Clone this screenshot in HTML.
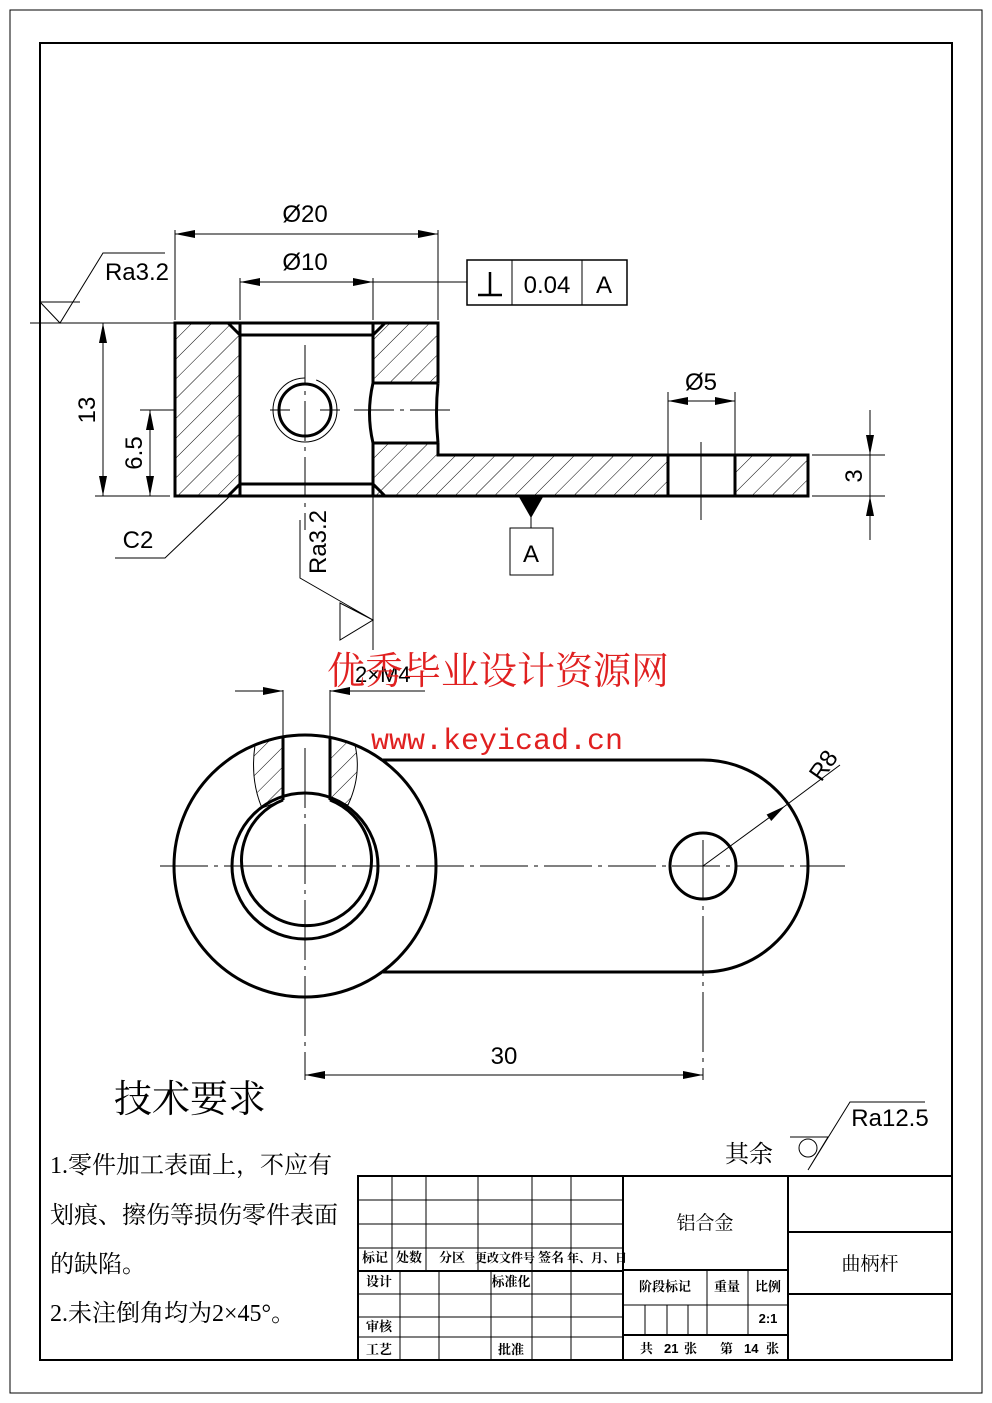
<!DOCTYPE html>
<html><head><meta charset="utf-8"><style>
html,body{margin:0;padding:0;background:#fff}
svg{display:block}
text{font-family:"Liberation Sans Narrow","Liberation Sans","Noto Sans CJK SC",sans-serif;fill:#000}
.cj{font-family:"Liberation Serif","Noto Serif CJK SC","Noto Sans CJK SC",serif}
</style></head><body>
<svg width="992" height="1403" viewBox="0 0 992 1403" xmlns="http://www.w3.org/2000/svg">
<defs>
<pattern id="h" patternUnits="userSpaceOnUse" width="14" height="14" patternTransform="rotate(45)">
<line x1="0" y1="0" x2="0" y2="14" stroke="#000" stroke-width="1"/></pattern>
<marker id="a" viewBox="0 0 20 8" refX="20" refY="4" markerWidth="20" markerHeight="8" markerUnits="userSpaceOnUse" orient="auto-start-reverse"><path d="M0,0L20,4L0,8z" fill="#000"/></marker>
</defs>
<rect x="10" y="10" width="972" height="1383" fill="none" stroke="#000" stroke-width="1"/>
<rect x="40" y="43" width="912" height="1317" fill="none" stroke="#000" stroke-width="2"/>

<!-- TOP VIEW -->
<g fill="url(#h)" stroke="none">
<path d="M175,323H240V496H175z"/>
<path d="M373,323H438V383H373z"/>
<path d="M373,443H438V455H668V496H373z"/>
<path d="M735,455H808V496H735z"/>
</g>
<g fill="none" stroke="#000" stroke-width="3">
<path d="M438,383V323H175V496H808V455H438V443"/>
<path d="M240,323V496M373,323V383M373,443V496"/>
<path d="M240,335H373M240,484H373M228,323L240,335M385,323L373,335M228,496L240,484M385,496L373,484"/>
<path d="M373,383H438M373,443H438M373,383Q366,413 373,443M438,383Q435,413 438,443"/>
<path d="M668,455V496M735,455V496"/>
<circle cx="305" cy="410" r="26"/>
</g>
<circle cx="305" cy="410" r="32" fill="none" stroke="#000" stroke-width="1" stroke-dasharray="150 12"/>
<g stroke="#000" stroke-width="1" fill="none">
<path d="M305,345V530M270,410H290M320,410H340M354,410H455M150,410H175" stroke-dasharray="40 6 4 6"/>
<path d="M701,442V520"/>
<path d="M175,230V320M438,230V320M240,278V320M373,278V320M668,392V455M735,392V455"/>
<path d="M175,234H438" marker-start="url(#a)" marker-end="url(#a)"/>
<path d="M240,282H373" marker-start="url(#a)" marker-end="url(#a)"/>
<path d="M373,282H467"/>
<path d="M668,401H735" marker-start="url(#a)" marker-end="url(#a)"/>
<path d="M30,323H175M95,496H170"/>
<path d="M103,323V496" marker-start="url(#a)" marker-end="url(#a)"/>
<path d="M140,410H175"/>
<path d="M150,410V496" marker-start="url(#a)" marker-end="url(#a)"/>
<path d="M812,455H885M812,496H885"/>
<path d="M870,410V455" marker-end="url(#a)"/>
<path d="M870,540V496" marker-end="url(#a)"/>
<path d="M870,455V496"/>
<path d="M230,496L165,558H115"/>
<path d="M40,302H80M40,302L60,323L103,253H165"/>
<path d="M300,520V578L373,620M373,620L340,603V640z"/>
<path d="M373,496V650"/>
<rect x="467" y="260" width="160" height="45" stroke-width="1.5"/>
<path d="M512,260V305M582,260V305"/>
<path d="M478,295H502M490,272V295" stroke-width="2.5"/>
<path d="M531,498V528"/>
<rect x="510" y="528" width="43" height="47"/>
</g>
<path d="M519,497H543L531,518z" fill="#000"/>
<g font-size="24">
<text x="305" y="222" text-anchor="middle">Ø20</text>
<text x="305" y="270" text-anchor="middle">Ø10</text>
<text x="547" y="293" text-anchor="middle">0.04</text>
<text x="604" y="293" text-anchor="middle">A</text>
<text x="137" y="280" text-anchor="middle">Ra3.2</text>
<text x="701" y="390" text-anchor="middle">Ø5</text>
<text x="138" y="548" text-anchor="middle">C2</text>
<text x="531" y="562" text-anchor="middle">A</text>
<text transform="translate(95,410) rotate(-90)" text-anchor="middle">13</text>
<text transform="translate(142,453) rotate(-90)" text-anchor="middle">6.5</text>
<text transform="translate(862,476) rotate(-90)" text-anchor="middle">3</text>
<text transform="translate(326,542) rotate(-90)" text-anchor="middle">Ra3.2</text>
</g>

<!-- BOTTOM VIEW -->
<g fill="none" stroke="#000" stroke-width="3">
<circle cx="305" cy="866" r="131"/>
<circle cx="305" cy="866" r="73"/>
<path d="M330,800A65,65 0 1,1 283,800"/>
<path d="M383,760H703A105,106 0 0,1 703,972H383"/>
<circle cx="703" cy="866" r="33"/>
<path d="M283,737V800M330,737V800"/>
</g>
<path d="M255,745Q250,780 262,808L283,800V737zM355,745Q362,775 348,805L330,800V737z" fill="url(#h)" stroke="#000" stroke-width="1"/>
<g stroke="#000" stroke-width="1" fill="none">
<path d="M160,866H845" stroke-dasharray="48 6 4 6"/>
<path d="M305,748V1080M703,840V1080" stroke-dasharray="60 6 4 6"/>
<path d="M283,690V737M330,690V737"/>
<path d="M235,691H283" marker-end="url(#a)"/>
<path d="M378,691H330" marker-end="url(#a)"/>
<path d="M330,691H425"/>
<path d="M703,866L785,806" marker-end="url(#a)"/>
<path d="M785,806L840,765"/>
<path d="M305,1075H703" marker-start="url(#a)" marker-end="url(#a)"/>
</g>
<text x="355" y="682" font-size="22">2×M4</text>
<text transform="translate(830,770) rotate(-55)" font-size="24" text-anchor="middle">R8</text>
<text x="504" y="1064" font-size="24" text-anchor="middle">30</text>

<text x="498" y="684" font-size="38" text-anchor="middle" class="cj" style="fill:#e02020">优秀毕业设计资源网</text>
<text x="497" y="749" font-size="30" text-anchor="middle" style="fill:#e02020;font-family:'Liberation Mono',monospace">www.keyicad.cn</text>

<text x="190" y="1112" font-size="38" text-anchor="middle" class="cj">技术要求</text>
<g font-size="24">
<text x="50" y="1173" class="cj">1.零件加工表面上，不应有</text>
<text x="50" y="1223" class="cj">划痕、擦伤等损伤零件表面</text>
<text x="50" y="1272" class="cj">的缺陷。</text>
<text x="50" y="1321" class="cj">2.未注倒角均为2×45°。</text>
<text x="725" y="1162" class="cj">其余</text>
</g>
<g stroke="#000" stroke-width="1" fill="none">
<path d="M790,1137H828L808,1170L850,1102H925"/>
<circle cx="808" cy="1148" r="9"/>
</g>
<text x="890" y="1126" font-size="24" text-anchor="middle">Ra12.5</text>

<g stroke="#000" fill="none">
<rect x="358" y="1176" width="594" height="184" stroke-width="2"/>
<path d="M623,1176V1360M788,1176V1360" stroke-width="2"/>
<path d="M358,1271H623M623,1270H788M623,1335H788M788,1232H952M788,1294H952" stroke-width="2"/>
<path d="M358,1200H623M358,1224H623M358,1248H623M358,1294H623M358,1317H623M358,1337H623" stroke-width="1"/>
<path d="M392,1176V1271M426,1176V1271M478,1176V1271M532,1176V1271M571,1176V1271" stroke-width="1"/>
<path d="M400,1271V1360M439,1271V1360M491,1271V1360M532,1271V1360M571,1271V1360" stroke-width="1"/>
<path d="M623,1305H788M707,1270V1335M748,1270V1335M645,1305V1335M667,1305V1335M688,1305V1335" stroke-width="1"/>
</g>
<g font-size="13" font-weight="bold">
<text x="375" y="1262" text-anchor="middle" class="cj">标记</text>
<text x="409" y="1262" text-anchor="middle" class="cj">处数</text>
<text x="452" y="1262" text-anchor="middle" class="cj">分区</text>
<text x="505" y="1262" text-anchor="middle" class="cj" font-size="12">更改文件号</text>
<text x="551" y="1262" text-anchor="middle" class="cj">签名</text>
<text x="597" y="1262" text-anchor="middle" class="cj" font-size="12">年、月、日</text>
<text x="379" y="1286" text-anchor="middle" class="cj">设计</text>
<text x="511" y="1286" text-anchor="middle" class="cj">标准化</text>
<text x="379" y="1331" text-anchor="middle" class="cj">审核</text>
<text x="379" y="1354" text-anchor="middle" class="cj">工艺</text>
<text x="511" y="1354" text-anchor="middle" class="cj">批准</text>
<text x="665" y="1291" text-anchor="middle" class="cj">阶段标记</text>
<text x="727" y="1291" text-anchor="middle" class="cj">重量</text>
<text x="768" y="1291" text-anchor="middle" class="cj">比例</text>
<text x="768" y="1323" text-anchor="middle">2:1</text>
<text x="640" y="1353" class="cj">共</text><text x="664" y="1353">21</text><text x="684" y="1353" class="cj">张</text>
<text x="720" y="1353" class="cj">第</text><text x="744" y="1353">14</text><text x="766" y="1353" class="cj">张</text>
</g>
<text x="705" y="1229" font-size="19" text-anchor="middle" class="cj">铝合金</text>
<text x="870" y="1270" font-size="19" text-anchor="middle" class="cj">曲柄杆</text>
</svg>
</body></html>
